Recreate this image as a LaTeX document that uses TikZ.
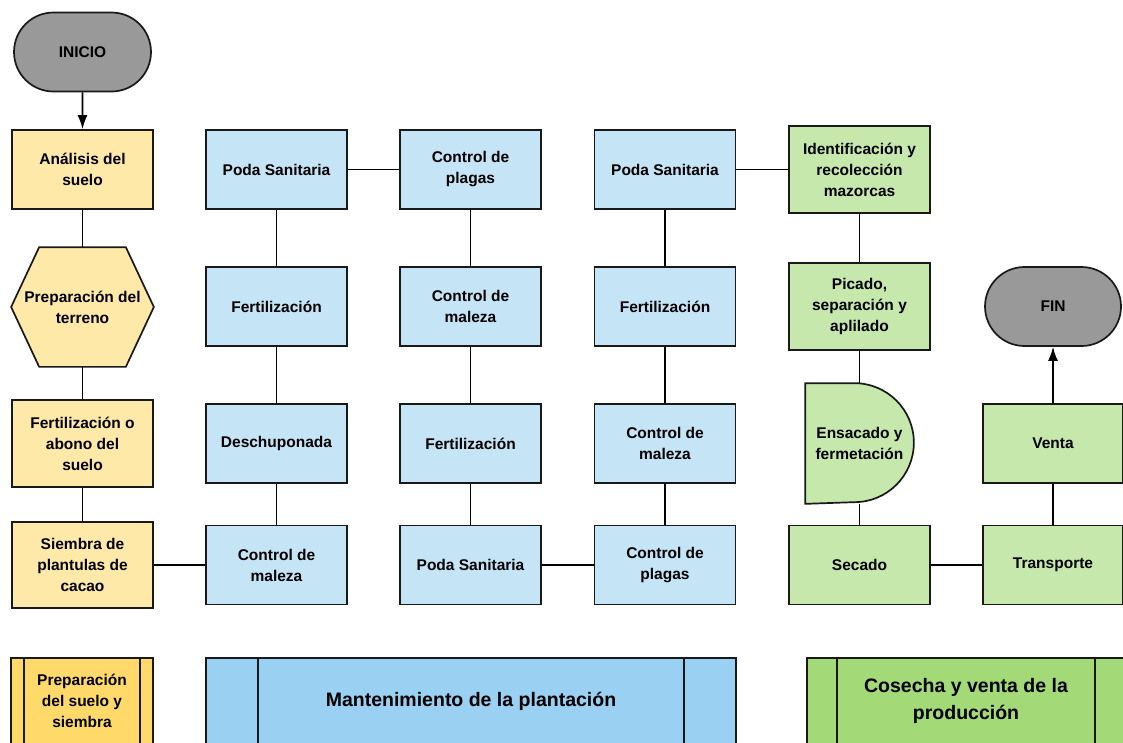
\documentclass[tikz,border=0pt]{standalone}
\usepackage{fontspec}
\setmainfont{Liberation Sans}
\usepackage{tikz}
\usetikzlibrary{arrows,arrows.meta}
\usetikzlibrary{shapes,shapes.misc}
\usetikzlibrary{positioning}
\usetikzlibrary{backgrounds}
\definecolor{termgray}{HTML}{999999}
\definecolor{prepyellow}{HTML}{FFE9A8}
\definecolor{mantblue}{HTML}{C5E4F6}
\definecolor{cosegreen}{HTML}{C7E8AC}
\definecolor{prepdark}{HTML}{FFDA6A}
\definecolor{mantdark}{HTML}{9AD0F2}
\definecolor{cosedark}{HTML}{A3D977}
\tikzset{
    base/.style={draw=black!90, line width=1.7pt, align=center, inner sep=2pt,
        font=\bfseries\fontsize{15.5}{21}\selectfont},
    startstop/.style={base, rounded rectangle, fill=termgray, minimum width=141pt, minimum height=79pt},
    prepbox/.style={base, rectangle, fill=prepyellow, minimum width=141pt, minimum height=79pt},
    mantbox/.style={base, rectangle, fill=mantblue, minimum width=141pt, minimum height=79pt},
    cosebox/.style={base, rectangle, fill=cosegreen, minimum width=141pt, minimum height=79pt},
    hexnode/.style={base, draw=none, minimum width=141pt, minimum height=118pt},
    delaynode/.style={base, draw=none, minimum width=107pt, minimum height=119pt},
    hexshape/.style={draw=black!90, line width=1.7pt, fill=prepyellow, line join=miter},
    delayshape/.style={draw=black!90, line width=1.7pt, fill=cosegreen},
    legend/.style={base, rectangle, minimum height=86pt, font=\bfseries\fontsize{19.5}{27}\selectfont},
    link/.style={draw=black, line width=1.7pt},
}
\tikzstyle{line} = [draw, line width=1.7pt, -{Latex[length=14pt,width=10pt]}]

\begin{document}
\begin{tikzpicture}[x=1pt, y=-1pt]
\useasboundingbox (0,0) rectangle (1123,742);
\clip (0,0) rectangle (1123,742);
% preparacion
\node[startstop] (inicio) at (82.5,52) {INICIO};
\node[prepbox] (analisis) at (82.5,169.5) {Análisis del\\suelo};
\node[hexnode] (terreno) at (82.5,307) {Preparación del\\terreno};
\node[prepbox, minimum height=87pt] (abono) at (82.5,443.5) {Fertilización o\\abono del\\suelo};
\node[prepbox, minimum height=86pt] (siembra) at (82.5,565) {Siembra de\\plantulas de\\cacao};
% mantenimiento
\node[mantbox] (poda1) at (276.5,169.5) {Poda Sanitaria};
\node[mantbox] (fert1) at (276.5,306.5) {Fertilización};
\node[mantbox] (deschu) at (276.5,443.5) {Deschuponada};
\node[mantbox] (mal1) at (276.5,565) {Control de\\maleza};
\node[mantbox] (plag1) at (470.5,169.5) {Control de\\plagas};
\node[mantbox] (mal2) at (470.5,306.5) {Control de\\maleza};
\node[mantbox] (fert2) at (470.5,443.5) {Fertilización};
\node[mantbox] (poda2) at (470.5,565) {Poda Sanitaria};
\node[mantbox] (poda3) at (665,169.5) {Poda Sanitaria};
\node[mantbox] (fert3) at (665,306.5) {Fertilización};
\node[mantbox] (mal3) at (665,443.5) {Control de\\maleza};
\node[mantbox] (plag2) at (665,565) {Control de\\plagas};
% cosecha
\node[cosebox, minimum height=87pt] (recol) at (859.5,169.5) {Identificación y\\recolección\\mazorcas};
\node[cosebox, minimum height=87pt] (picado) at (859.5,306.5) {Picado,\\separación y\\aplilado};
\node[delaynode] (ensacado) at (859.5,443.5) {Ensacado y\\fermetación};
\node[cosebox] (secado) at (859.5,565) {Secado};
\node[startstop, minimum width=140pt] (fin) at (1053,306.5) {FIN};
\node[cosebox, minimum width=140pt] (venta) at (1053,443.5) {Venta};
\node[cosebox, minimum width=140pt] (transp) at (1053,565) {Transporte};
% leyenda
\node[legend, fill=prepdark, minimum width=142pt, font=\bfseries\fontsize{15.5}{21}\selectfont] (lprep) at (82,701) {Preparación\\del suelo y\\siembra};
\node[legend, fill=mantdark, minimum width=530pt] (lmant) at (471,701) {Mantenimiento de la plantación};
\node[legend, fill=cosedark, minimum width=318pt] (lcose) at (966,701) {Cosecha y venta de la\\producción};
\foreach \n/\d in {lprep/14pt, lmant/53pt, lcose/31pt}{
    \draw[link, draw=black!90] ([xshift=\d]\n.north west) -- ([xshift=\d]\n.south west);
    \draw[link, draw=black!90] ([xshift=-\d]\n.north east) -- ([xshift=-\d]\n.south east);
}

\begin{scope}[on background layer]
\fill[white] (0,0) rectangle (1123,742);
\draw[hexshape] (terreno.west) -- ([xshift=28pt]terreno.north west) -- ([xshift=-28pt]terreno.north east)
    -- (terreno.east) -- ([xshift=-28pt]terreno.south east) -- ([xshift=28pt]terreno.south west) -- cycle;
\draw[delayshape] (ensacado.south west) -- (ensacado.north west) -- ([xshift=-59.5pt]ensacado.north east)
    arc[start angle=90, end angle=-90, radius=59.5pt] -- cycle;
\end{scope}

\path[line] (inicio) -- (analisis);
\foreach \a/\b in {analisis/terreno, terreno/abono, abono/siembra, siembra/mal1,
    mal1/deschu, deschu/fert1, fert1/poda1, poda1/plag1, plag1/mal2, mal2/fert2,
    fert2/poda2, poda2/plag2, plag2/mal3, mal3/fert3, fert3/poda3, poda3/recol,
    recol/picado, picado/ensacado, ensacado/secado, secado/transp, transp/venta}
    \draw[link] (\a) -- (\b);
\path[line] (venta) -- (fin);
\end{tikzpicture}
\end{document}
